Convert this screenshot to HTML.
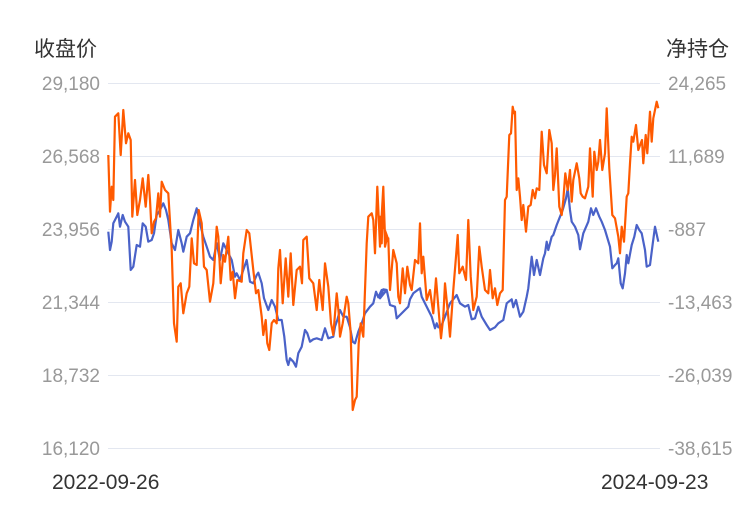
<!DOCTYPE html>
<html><head><meta charset="utf-8"><style>
body{margin:0;background:#fff;width:750px;height:510px;overflow:hidden}
svg{display:block}
text{font-family:"Liberation Sans","Noto Sans CJK SC",sans-serif}
</style></head><body>
<svg width="750" height="510" xmlns="http://www.w3.org/2000/svg">
<g stroke="#e3e7f0" stroke-width="1">
<line x1="108" y1="83.5" x2="660" y2="83.5"/><line x1="108" y1="156.5" x2="660" y2="156.5"/>
<line x1="108" y1="229.5" x2="660" y2="229.5"/><line x1="108" y1="302.5" x2="660" y2="302.5"/>
<line x1="108" y1="375.5" x2="660" y2="375.5"/><line x1="108" y1="448.5" x2="660" y2="448.5"/>
</g>
<text x="34" y="56" font-size="21" fill="#333">收盘价</text>
<text x="666" y="56" font-size="21" fill="#333">净持仓</text>
<g font-size="19" fill="#999" text-anchor="end">
<text x="100" y="90">29,180</text><text x="100" y="163">26,568</text><text x="100" y="236">23,956</text>
<text x="100" y="309">21,344</text><text x="100" y="382">18,732</text><text x="100" y="455">16,120</text>
</g>
<g font-size="19" fill="#999">
<text x="668" y="90">24,265</text><text x="668" y="163">11,689</text><text x="668" y="236">-887</text>
<text x="668" y="309">-13,463</text><text x="668" y="382">-26,039</text><text x="668" y="455">-38,615</text>
</g>
<text x="52" y="489" font-size="21" fill="#333">2022-09-26</text>
<text x="601" y="489" font-size="21" fill="#333">2024-09-23</text>
<polyline id="b" fill="none" stroke="#4a62c8" stroke-width="2.2" stroke-linejoin="round"/>
<polyline id="o" fill="none" stroke="#ff5a00" stroke-width="2.2" stroke-linejoin="round"/>
</svg>
<script>
function cv(a,ox){var r=[];for(var i=0;i<a.length;i+=2)r.push((ox+a[i]/3).toFixed(1)+","+(90+a[i+1]/3).toFixed(1));return r;}
var b1=[25,425,30,480,35,455,40,400,45,390,55,370,60,410,68,375,75,395,85,410,92,540,100,530,110,465,120,470,128,400,137,410,145,455,155,450,162,430,170,375,180,360,190,340,198,360,205,390,215,460,225,480,235,420,245,460,250,485,260,440,270,430,280,390,290,355,300,400,310,440,320,470,330,500,340,510,350,460,360,510,370,460,380,480,395,510,405,560,410,550,420,570,430,540,440,510,450,575,460,580,470,555,475,548,485,580,492,625,505,660,515,630,525,650,535,690,545,690,553,740,560,810,565,825,570,805,580,815,588,830,595,790,605,770,615,720,622,730,630,755,640,748,650,745,665,750,675,715,685,745,700,740,705,710,712,690,720,660,730,680,740,680,750,712,758,755,765,760,775,725,785,700,795,670,810,650,820,640,828,605,835,622,845,600,860,600];
var b2=[0,625,10,598,20,600,30,645,45,650,50,685,60,675,75,660,85,650,90,628,100,610,120,595,125,620,140,650,155,680,165,715,170,700,175,712,185,705,195,680,210,640,230,615,240,640,255,650,265,645,275,688,285,685,295,650,305,680,320,705,330,720,345,712,355,700,370,690,380,640,395,628,400,652,408,630,420,680,430,665,440,620,445,595,455,500,462,555,470,510,480,555,490,505,495,490,500,455,505,480,515,440,520,435,530,405,540,380,548,360,558,325,563,295,570,360,575,395,585,410,595,435,600,478,610,430,625,395,633,355,640,375,648,355,658,380,665,395,675,420,690,470,697,535,705,525,710,520,715,505,722,580,728,595,735,550,740,495,745,520,755,465,763,440,770,405,778,420,785,430,795,480,800,530,810,525,818,462,825,410,835,455];
var o1=[25,195,30,365,35,290,40,330,45,80,55,70,62,195,70,60,78,160,85,130,92,150,97,380,105,270,112,375,120,330,128,265,137,350,145,255,150,330,155,430,162,395,168,385,175,310,180,380,185,275,195,300,205,310,215,480,222,700,230,755,235,590,242,580,250,670,260,610,268,590,275,445,282,520,290,525,296,360,305,400,312,530,320,540,330,635,340,580,350,410,355,440,362,580,370,495,375,515,385,440,392,570,398,545,405,625,412,570,425,575,430,490,440,420,448,430,460,540,468,610,475,600,485,680,490,735,497,690,502,760,508,780,515,700,522,690,530,700,535,535,540,480,548,640,557,505,565,620,572,490,580,645,590,540,600,530,606,580,610,450,620,440,628,565,640,580,650,660,658,570,668,660,675,520,685,590,693,700,700,735,710,610,716,670,720,740,728,700,740,620,745,640,752,730,758,960,765,930,770,920,776,760,782,700,790,740,800,460,805,380,815,370,820,390,825,490,832,290,840,470,850,290,855,470,862,440];
var o2=[0,380,5,460,10,295,15,440,25,445,30,600,40,480,50,520,55,620,60,640,68,535,75,610,82,530,90,585,95,600,105,510,115,520,120,400,125,550,130,500,140,630,150,600,160,670,168,565,175,650,183,745,190,680,195,580,205,680,210,740,220,600,228,500,233,435,238,550,248,530,258,570,265,390,272,560,280,660,290,620,298,470,305,530,315,600,325,610,330,540,338,625,345,595,352,645,360,610,368,600,375,330,380,320,388,135,393,130,398,50,402,70,405,65,410,300,415,265,420,320,425,390,430,345,438,425,445,350,452,345,458,300,465,325,470,295,478,300,485,125,492,225,500,250,508,120,515,160,520,300,525,255,530,175,538,350,545,375,550,330,556,250,563,300,570,240,575,335,580,270,590,220,598,265,602,310,608,320,615,325,625,290,630,175,638,320,643,185,650,240,655,215,660,150,667,240,675,190,680,55,688,235,697,375,705,385,715,440,720,490,725,410,732,455,740,320,745,310,750,220,755,140,760,155,768,105,775,180,782,160,786,150,790,220,797,135,802,190,810,65,815,155,820,85,830,35,835,55];
document.getElementById('b').setAttribute('points',cv(b1,100).concat(cv(b2,380)).join(' '));
document.getElementById('o').setAttribute('points',cv(o1,100).concat(cv(o2,380)).join(' '));
</script>
</body></html>
